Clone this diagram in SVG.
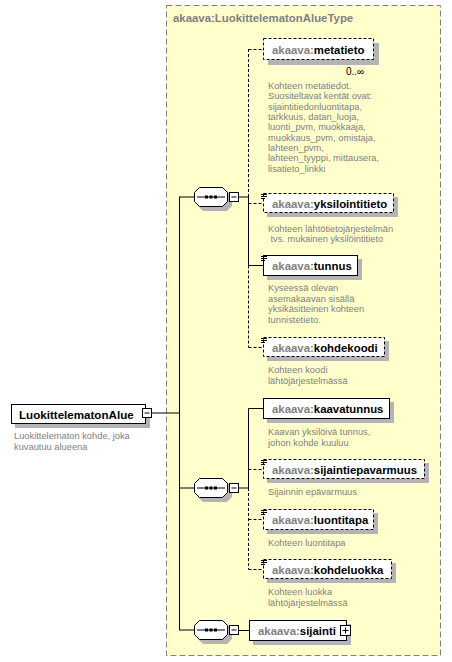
<svg xmlns="http://www.w3.org/2000/svg" xmlns:xlink="http://www.w3.org/1999/xlink" width="452" height="662" viewBox="0 0 452 662">
<style>
text{font-family:"Liberation Sans",Arial,sans-serif}
.name{font-size:11.4px;font-weight:bold;fill:#000}
.pfx{fill:#808080}
.desc{font-size:9.3px;fill:#808080}
.box{fill:#fff;stroke:#000;stroke-width:1}
.opt{stroke-dasharray:3,2}
.shadow{fill:#b4b4b4}
.ln{stroke:#000;stroke-width:1;fill:none}
.dash{stroke-dasharray:3,2}
.icon{stroke:#000;stroke-width:1}
</style>
<defs>
<g id="seqShape">
<polygon class="shadow" points="9,4 33,4 38,9 38,19 33,24 9,24 4,19 4,9"/>
<polygon class="box" points="5.5,0.5 28.5,0.5 33.5,5.5 33.5,14.5 28.5,19.5 5.5,19.5 0.5,14.5 0.5,5.5"/>
<line x1="3" y1="10" x2="31" y2="10" class="ln"/>
<rect x="11" y="8.5" width="3" height="3" fill="#000"/>
<rect x="15.5" y="8.5" width="3" height="3" fill="#000"/>
<rect x="20" y="8.5" width="3" height="3" fill="#000"/>
<rect x="35.5" y="5.5" width="9" height="9" class="box"/>
<line x1="37.5" y1="10" x2="42.5" y2="10" class="ln"/>
</g>
<g id="txtIcon">
<line x1="0" y1="0.5" x2="6" y2="0.5" class="icon"/>
<line x1="0" y1="2.5" x2="6" y2="2.5" class="icon"/>
<line x1="0" y1="4.5" x2="4" y2="4.5" class="icon"/>
</g>
</defs>

<g id="typeContainer">
<rect x="166.5" y="5.5" width="274" height="650" fill="#ffffcc" stroke="#808080" stroke-dasharray="6,3"/>
<text x="173" y="22" class="name pfx">akaava:LuokittelematonAlueType</text>
</g>

<g id="connectors">
<line x1="152" y1="413" x2="179.5" y2="413" class="ln"/>
<line x1="179.5" y1="197" x2="179.5" y2="630" class="ln"/>
<line x1="179" y1="197" x2="194" y2="197" class="ln"/>
<line x1="179" y1="488" x2="194" y2="488" class="ln"/>
<line x1="179" y1="630" x2="194" y2="630" class="ln"/>
<line x1="238" y1="197" x2="248.5" y2="197" class="ln"/>
<line x1="248.5" y1="49" x2="248.5" y2="197" class="ln dash"/>
<line x1="248.5" y1="197" x2="248.5" y2="265.5" class="ln"/>
<line x1="248.5" y1="265.5" x2="248.5" y2="347.5" class="ln dash"/>
<line x1="248.5" y1="49.5" x2="263" y2="49.5" class="ln dash"/>
<line x1="248.5" y1="203.5" x2="263" y2="203.5" class="ln dash"/>
<line x1="248.5" y1="265.5" x2="263" y2="265.5" class="ln"/>
<line x1="248.5" y1="347.5" x2="263" y2="347.5" class="ln dash"/>
<line x1="238" y1="488" x2="248.5" y2="488" class="ln"/>
<line x1="248.5" y1="408.5" x2="248.5" y2="488" class="ln"/>
<line x1="248.5" y1="488" x2="248.5" y2="569.5" class="ln dash"/>
<line x1="248.5" y1="408.5" x2="263" y2="408.5" class="ln"/>
<line x1="248.5" y1="469.5" x2="263" y2="469.5" class="ln dash"/>
<line x1="248.5" y1="519.5" x2="263" y2="519.5" class="ln dash"/>
<line x1="248.5" y1="569.5" x2="263" y2="569.5" class="ln dash"/>
<line x1="238" y1="630.5" x2="249" y2="630.5" class="ln"/>
</g>

<g id="LuokittelematonAlue">
<rect x="15" y="408" width="135" height="20" class="shadow"/>
<rect x="11.5" y="404.5" width="134" height="19" class="box"/>
<text x="19" y="418.5" class="name" style="font-size:11.6px">LuokittelematonAlue</text>
<rect x="142.5" y="408.5" width="9" height="9" class="box"/>
<line x1="144.5" y1="413" x2="149.5" y2="413" class="ln"/>
<text x="14" y="439" class="desc">Luokittelematon kohde, joka</text>
<text x="14" y="449.5" class="desc">kuvautuu alueena</text>
</g>

<g id="seq1"><use xlink:href="#seqShape" href="#seqShape" transform="translate(194,187)"/></g>
<g id="seq2"><use xlink:href="#seqShape" href="#seqShape" transform="translate(194,478)"/></g>
<g id="seq3"><use xlink:href="#seqShape" href="#seqShape" transform="translate(194,620)"/></g>

<g id="metatieto">
<rect x="268" y="43" width="111" height="22" class="shadow"/>
<rect x="263.5" y="38.5" width="110" height="21" class="box opt"/>
<text x="272" y="53.5" class="name"><tspan class="pfx">akaava:</tspan>metatieto</text>
<text x="346" y="75" style="font-size:10px;fill:#000">0..∞</text>
<text class="desc">
<tspan x="268" y="89">Kohteen metatiedot.</tspan>
<tspan x="268" y="99.4">Suositeltavat kentät ovat:</tspan>
<tspan x="268" y="109.7">sijaintitiedonluontitapa,</tspan>
<tspan x="268" y="120">tarkkuus, datan_luoja,</tspan>
<tspan x="268" y="130.4">luonti_pvm, muokkaaja,</tspan>
<tspan x="268" y="140.7">muokkaus_pvm, omistaja,</tspan>
<tspan x="268" y="151.1">lahteen_pvm,</tspan>
<tspan x="268" y="161.4">lahteen_tyyppi, mittausera,</tspan>
<tspan x="268" y="171.8">lisatieto_linkki</tspan>
</text>
</g>

<g id="yksilointitieto">
<rect x="267" y="197" width="131" height="20" class="shadow"/>
<rect x="263.5" y="193.5" width="130" height="19" class="box opt"/>
<use xlink:href="#txtIcon" href="#txtIcon" transform="translate(261,194)"/>
<text x="272" y="207.5" class="name"><tspan class="pfx">akaava:</tspan>yksilointitieto</text>
<text x="268" y="231.5" class="desc">Kohteen lähtötietojärjestelmän</text>
<text x="270.5" y="242" class="desc">tvs. mukainen yksilöintitieto</text>
</g>

<g id="tunnus">
<rect x="267" y="259" width="95" height="21" class="shadow"/>
<rect x="263.5" y="255.5" width="94" height="20" class="box"/>
<use xlink:href="#txtIcon" href="#txtIcon" transform="translate(261,256)"/>
<text x="272" y="269.5" class="name"><tspan class="pfx">akaava:</tspan>tunnus</text>
<text class="desc">
<tspan x="268" y="291">Kyseessä olevan</tspan>
<tspan x="268" y="301.5">asemakaavan sisällä</tspan>
<tspan x="268" y="312">yksikäsitteinen kohteen</tspan>
<tspan x="268" y="322.5">tunnistetieto.</tspan>
</text>
</g>

<g id="kohdekoodi">
<rect x="267" y="341" width="122" height="20" class="shadow"/>
<rect x="263.5" y="337.5" width="121" height="19" class="box opt"/>
<use xlink:href="#txtIcon" href="#txtIcon" transform="translate(261,338)"/>
<text x="272" y="351.5" class="name"><tspan class="pfx">akaava:</tspan>kohdekoodi</text>
<text x="268" y="373" class="desc">Kohteen koodi</text>
<text x="268" y="383.5" class="desc">lähtöjärjestelmässä</text>
</g>

<g id="kaavatunnus">
<rect x="267" y="402" width="127" height="21" class="shadow"/>
<rect x="263.5" y="398.5" width="126" height="20" class="box"/>
<text x="272" y="412.5" class="name"><tspan class="pfx">akaava:</tspan>kaavatunnus</text>
<text x="268" y="435" class="desc">Kaavan yksilöivä tunnus,</text>
<text x="268" y="445.5" class="desc">johon kohde kuuluu</text>
</g>

<g id="sijaintiepavarmuus">
<rect x="267" y="463" width="162" height="20" class="shadow"/>
<rect x="263.5" y="459.5" width="161" height="19" class="box opt"/>
<use xlink:href="#txtIcon" href="#txtIcon" transform="translate(261,460)"/>
<text x="272" y="473.5" class="name"><tspan class="pfx">akaava:</tspan>sijaintiepavarmuus</text>
<text x="268" y="495" class="desc">Sijainnin epävarmuus</text>
</g>

<g id="luontitapa">
<rect x="267" y="513" width="111" height="21" class="shadow"/>
<rect x="263.5" y="509.5" width="110" height="20" class="box opt"/>
<use xlink:href="#txtIcon" href="#txtIcon" transform="translate(261,510)"/>
<text x="272" y="523.5" class="name"><tspan class="pfx">akaava:</tspan>luontitapa</text>
<text x="268" y="545.5" class="desc">Kohteen luontitapa</text>
</g>

<g id="kohdeluokka">
<rect x="267" y="563" width="129" height="20" class="shadow"/>
<rect x="263.5" y="559.5" width="128" height="19" class="box opt"/>
<use xlink:href="#txtIcon" href="#txtIcon" transform="translate(261,560)"/>
<text x="272" y="573.5" class="name"><tspan class="pfx">akaava:</tspan>kohdeluokka</text>
<text x="268" y="595" class="desc">Kohteen luokka</text>
<text x="268" y="605.5" class="desc">lähtöjärjestelmässä</text>
</g>

<g id="sijainti">
<rect x="253" y="624" width="98" height="21" class="shadow"/>
<rect x="249.5" y="620.5" width="97" height="20" class="box"/>
<text x="258" y="634.5" class="name"><tspan class="pfx">akaava:</tspan>sijainti</text>
<rect x="340.5" y="625.5" width="10" height="10" class="box"/>
<line x1="342.5" y1="630.5" x2="348.5" y2="630.5" class="ln"/>
<line x1="345.5" y1="627.5" x2="345.5" y2="633.5" class="ln"/>
</g>
</svg>
